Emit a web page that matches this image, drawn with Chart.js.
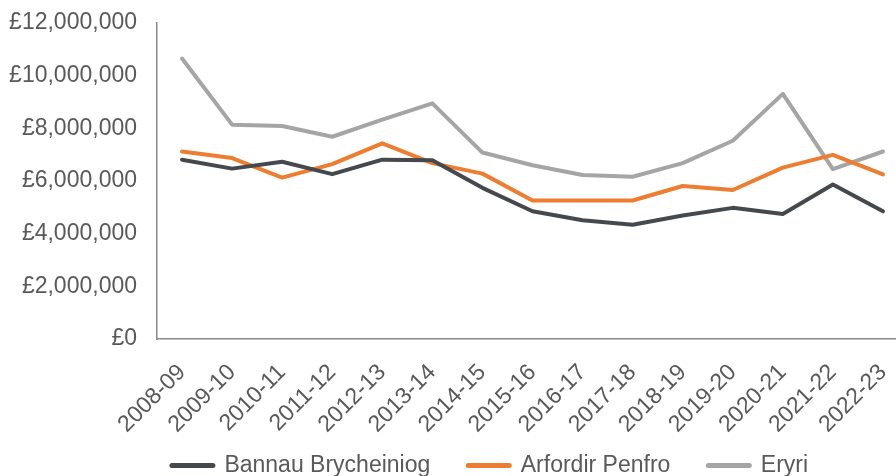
<!DOCTYPE html>
<html>
<head>
<meta charset="utf-8">
<script src="https://cdn.jsdelivr.net/npm/chart.js@4.4.1/dist/chart.umd.min.js"></script>
<style>
  html, body { margin: 0; padding: 0; background: #fff; overflow: hidden; width: 896px; height: 476px; }
  #wrap { width: 980px; height: 476px; position: relative; }
</style>
</head>
<body>
<div id="wrap"><canvas id="chart"></canvas></div>
<script>
const years = ['2008-09', '2009-10', '2010-11', '2011-12', '2012-13', '2013-14', '2014-15',
    '2015-16', '2016-17', '2017-18', '2018-19', '2019-20', '2020-21', '2021-22', '2022-23'];
const bannau = [6810000, 6470000, 6730000, 6260000, 6810000, 6790000, 5740000, 4850000,
    4510000, 4340000, 4690000, 4980000, 4750000, 5870000, 4850000];
const arfordir = [7120000, 6870000, 6130000, 6640000, 7430000, 6680000, 6280000, 5260000,
    5260000, 5260000, 5810000, 5660000, 6510000, 6990000, 6250000];
const eryri = [10650000, 8140000, 8090000, 7680000, 8330000, 8950000, 7080000, 6600000,
    6230000, 6160000, 6680000, 7530000, 9310000, 6450000, 7120000];
const yTicks = [0, 2000000, 4000000, 6000000, 8000000, 10000000, 12000000];

const textColor = '#595959';
const axisColor = '#898989';

Chart.defaults.font.family = '"Liberation Sans", Arial, sans-serif';
Chart.defaults.font.size = 23;
Chart.defaults.color = textColor;

function series(label, data, color) {
    return {
        label: label,
        data: data,
        borderColor: color,
        backgroundColor: color,
        borderWidth: 4,
        borderJoinStyle: 'round',
        borderCapStyle: 'round',
        pointRadius: 0,
        tension: 0,
        fill: false
    };
}

// thicker, round-capped legend lines
const baseLabels = Chart.defaults.plugins.legend.labels.generateLabels;

// the rotated year labels run past the axis box into the legend band; don't clip them
const unclipLabels = {
    id: 'unclipLabels',
    afterLayout(chart) {
        chart.scales.x.bottom = chart.height;
    }
};

new Chart(document.getElementById('chart'), {
    type: 'line',
    data: {
        labels: years,
        datasets: [
            series('Bannau Brycheiniog', bannau, '#45494d'),
            series('Arfordir Penfro', arfordir, '#ed7d31'),
            series('Eryri', eryri, '#a5a5a5')
        ]
    },
    plugins: [unclipLabels],
    options: {
        responsive: true,
        maintainAspectRatio: false,
        animation: false,
        layout: { padding: { top: 23, bottom: -11, left: 0, right: 0 } },
        plugins: {
            tooltip: { enabled: false },
            legend: {
                position: 'bottom',
                labels: {
                    usePointStyle: true,
                    pointStyle: 'line',
                    pointStyleWidth: 41,
                    padding: 38,
                    color: textColor,
                    font: { size: 23 },
                    generateLabels: chart => baseLabels(chart).map(item => {
                        item.lineWidth = 5;
                        item.lineCap = 'round';
                        return item;
                    })
                }
            }
        },
        scales: {
            x: {
                offset: true,
                grid: { display: false, drawTicks: false },
                border: { display: true, color: axisColor, width: 1.5 },
                ticks: {
                    autoSkip: false,
                    minRotation: 45,
                    maxRotation: 45,
                    padding: 20,
                    color: textColor
                },
                afterFit: scale => { scale.height = 77; }
            },
            y: {
                min: 0,
                max: 12000000,
                afterBuildTicks: scale => { scale.ticks = yTicks.map(v => ({ value: v })); },
                grid: { display: false, drawTicks: true, tickLength: 17 },
                border: { display: true, color: axisColor, width: 1.5 },
                ticks: {
                    padding: 3,
                    color: textColor,
                    callback: v => '£' + Number(v).toLocaleString('en-GB')
                },
                afterFit: scale => { scale.width = 157; }
            },
            spare: {
                position: 'right',
                display: true,
                grid: { display: false, drawTicks: false },
                border: { display: false },
                ticks: { display: false },
                afterFit: scale => { scale.width = 72; }
            }
        }
    }
});
</script>
</body>
</html>
